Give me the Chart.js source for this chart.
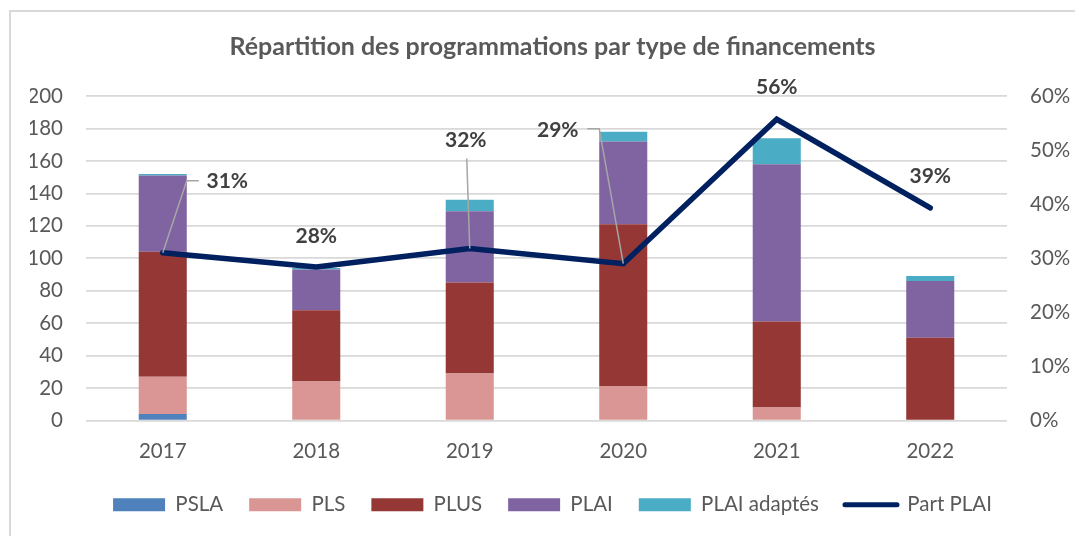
<!DOCTYPE html>
<html lang="fr">
<head>
<meta charset="utf-8">
<script src="https://cdn.jsdelivr.net/npm/chart.js@4.4.1/dist/chart.umd.min.js"></script>
<style>
  html, body { margin: 0; padding: 0; background: #ffffff; overflow: hidden; }
  #wrap { position: relative; width: 1075px; height: 536px; }
  #frame { position: absolute; left: 9px; top: 10px; width: 1200px; height: 700px; border: 2px solid #d9d9d9; box-sizing: border-box; }
  canvas { position: absolute; left: 0; top: 0; }
</style>
</head>
<body>
<div id="wrap">
  <div id="frame"></div>
  <canvas id="c" width="1075" height="536"></canvas>
</div>
<script>
// ---- data ----
const years = ['2017', '2018', '2019', '2020', '2021', '2022'];
const psla = [4, 0, 0, 0, 0, 0];
const pls = [23, 24, 29, 21, 8, 0];
const plus = [77, 44, 56, 100, 53, 51];
const plai = [47, 25, 44, 51, 97, 35];
const plaiAdaptes = [1, 1, 7, 6, 16, 3];
const partPlai = [31.0, 28.4, 31.8, 29.0, 55.7, 39.3];
const leftTicks = [0, 20, 40, 60, 80, 100, 120, 140, 160, 180, 200];
const rightTicks = [0, 10, 20, 30, 40, 50, 60];

// ---- label placement (style) ----
const labelStyle = [
  { dx: 64.5, dy: -72, leader: [[0, 0], [24, -72], [36, -72]] },
  { dx: 0, dy: -31, leader: null },
  { dx: -4, dy: -108, leader: [[0, 0], [-3, -90]] },
  { dx: -65.5, dy: -133, leader: [[0, 0], [-24, -135], [-36, -135]] },
  { dx: 0, dy: -32, leader: null },
  { dx: 0, dy: -32, leader: null }
];

const FONT = 'Lato';
const TXT = '#595959';

const labelPlugin = {
  id: 'partLabels',
  afterDatasetsDraw(chart) {
    const idx = chart.data.datasets.findIndex(d => d.type === 'line');
    const meta = chart.getDatasetMeta(idx);
    const ctx = chart.ctx;
    ctx.save();
    meta.data.forEach((pt, i) => {
      const st = labelStyle[i];
      if (st.leader) {
        ctx.beginPath();
        ctx.strokeStyle = '#a6a6a6';
        ctx.lineWidth = 1.5;
        st.leader.forEach((p, k) => {
          const x = pt.x + p[0], y = pt.y + p[1];
          if (k === 0) ctx.moveTo(x, y); else ctx.lineTo(x, y);
        });
        ctx.stroke();
      }
      ctx.fillStyle = '#404040';
      ctx.font = 'bold 21px ' + FONT;
      ctx.textAlign = 'center';
      ctx.textBaseline = 'middle';
      ctx.fillText(Math.round(partPlai[i]) + '%', pt.x + st.dx, pt.y + st.dy);
    });
    ctx.restore();
  }
};

const barCommon = { type: 'bar', yAxisID: 'y', stack: 's', barPercentage: 0.313, categoryPercentage: 1, borderWidth: 0, order: 2 };

new Chart(document.getElementById('c'), {
  data: {
    labels: years,
    datasets: [
      Object.assign({ label: 'PSLA', data: psla, backgroundColor: '#4f81bd' }, barCommon),
      Object.assign({ label: 'PLS', data: pls, backgroundColor: '#d99694' }, barCommon),
      Object.assign({ label: 'PLUS', data: plus, backgroundColor: '#953735' }, barCommon),
      Object.assign({ label: 'PLAI', data: plai, backgroundColor: '#8064a2' }, barCommon),
      Object.assign({ label: 'PLAI adaptés', data: plaiAdaptes, backgroundColor: '#4bacc6' }, barCommon),
      {
        type: 'line', label: 'Part PLAI', data: partPlai, yAxisID: 'y1',
        borderColor: '#002060', backgroundColor: '#002060', borderWidth: 5.5,
        borderCapStyle: 'round', borderJoinStyle: 'miter',
        pointRadius: 0, pointHoverRadius: 0, tension: 0, order: 1,
        pointStyle: 'line'
      }
    ]
  },
  options: {
    responsive: false,
    animation: false,
    events: [],
    layout: { padding: { left: 30, right: 0, top: 0, bottom: 11 } },
    plugins: {
      title: {
        display: true,
        text: 'Répartition des programmations par type de financements',
        color: TXT,
        font: { family: FONT, size: 25, weight: 'bold', lineHeight: 1.2 },
        padding: { top: 32, bottom: 34 }
      },
      legend: {
        position: 'bottom',
        labels: {
          usePointStyle: true,
          pointStyleWidth: 52,
          boxHeight: 13,
          padding: 26,
          color: TXT,
          font: { family: FONT, size: 20.5 },
          generateLabels(chart) {
            return chart.data.datasets.map((d, i) => ({
              text: d.label,
              fillStyle: d.backgroundColor,
              strokeStyle: d.borderColor || d.backgroundColor,
              lineWidth: d.type === 'line' ? 5 : 0,
              lineCap: 'round',
              pointStyle: d.type === 'line' ? 'line' : 'rect',
              fontColor: TXT,
              hidden: false,
              datasetIndex: i
            }));
          }
        }
      },
      tooltip: { enabled: false }
    },
    scales: {
      x: {
        stacked: true,
        grid: { display: false, drawTicks: false },
        border: { display: false },
        ticks: { color: TXT, font: { family: FONT, size: 20.5 }, padding: 19 },
        afterFit(s) { s.height = 48; }
      },
      y: {
        stacked: true,
        position: 'left',
        min: 0, max: 200,
        afterBuildTicks(s) { s.ticks = leftTicks.map(v => ({ value: v })); },
        grid: { color: '#d9d9d9', lineWidth: 1.7, drawTicks: false },
        border: { display: false },
        ticks: { color: TXT, font: { family: FONT, size: 20.5 }, padding: 23 },
        afterFit(s) { s.width = 56; }
      },
      y1: {
        position: 'right',
        min: 0, max: 60,
        afterBuildTicks(s) { s.ticks = rightTicks.map(v => ({ value: v })); },
        grid: { display: false, drawTicks: false },
        border: { display: false },
        ticks: { color: TXT, font: { family: FONT, size: 20.5 }, padding: 23, callback: v => v + '%' },
        afterFit(s) { s.width = 68; }
      }
    }
  },
  plugins: [labelPlugin]
});
</script>
</body>
</html>
